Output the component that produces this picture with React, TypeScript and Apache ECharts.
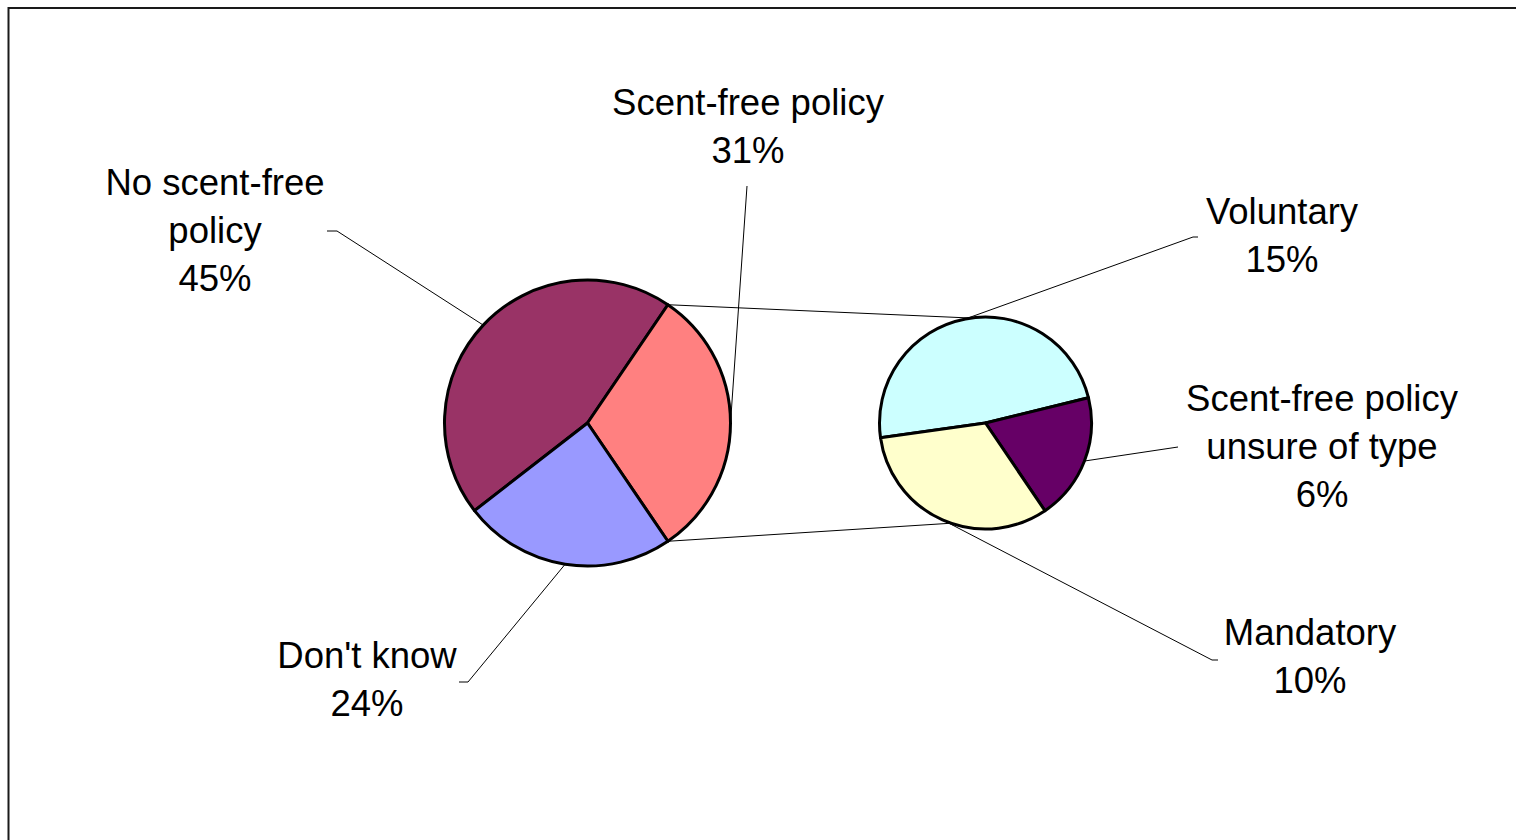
import { useEffect, useRef } from "react";
import * as echarts from "echarts";

// ---- data ----
const mainCategories = ["No scent-free policy", "Scent-free policy", "Don't know"];
const mainValues = [45, 31, 24];
const subCategories = ["Voluntary", "Scent-free policy unsure of type", "Mandatory"];
const subValues = [15, 6, 10];

// ---- styles ----
const mainColors = ["#993366", "#FF8080", "#9999FF"];
const subColors = ["#CCFFFF", "#660066", "#FFFFCC"];
const wrapText: Record<string, string> = {
  "No scent-free policy": "No scent-free\npolicy",
  "Scent-free policy unsure of type": "Scent-free policy\nunsure of type",
};

// ---- layout ----
const MAIN = { cx: 587.5, cy: 423, r: 143, start: 217.8 };
const SUB = { cx: 985.5, cy: 423, r: 106, start: 188 };
const mainLabelPos = [[215, 230], [748, 126], [367, 679]];
const mainGuide = [[[337, 231], [327, 231]], [[747, 186]], [[468, 682], [459, 682]]];
const subLabelPos = [[1282, 235], [1322, 446], [1310, 656]];
const subGuide = [[[1193, 237], [1198, 237]], [[1178, 447]], [[1212, 660], [1218, 660]]];
const seriesLineSubAngles = [98, 251];

const FONT = "'Liberation Sans', Arial, sans-serif";

function pointAt(p: { cx: number; cy: number; r: number }, deg: number) {
  const a = (deg * Math.PI) / 180;
  return [p.cx + p.r * Math.cos(a), p.cy - p.r * Math.sin(a)];
}

function sliceAngles(values: number[], start: number) {
  const total = values.reduce((s, v) => s + v, 0);
  let cum = 0;
  return values.map((v) => {
    const a0 = start - (360 * cum) / total;
    cum += v;
    const a1 = start - (360 * cum) / total;
    return { a0, a1, mid: (a0 + a1) / 2 };
  });
}

export default function App() {
  const ref = useRef<HTMLDivElement>(null);
  useEffect(() => {
    if (!ref.current) return;
    const chart = echarts.init(ref.current, undefined, { renderer: "svg" });

    const mainAng = sliceAngles(mainValues, MAIN.start);
    const subAng = sliceAngles(subValues, SUB.start);

    const guides: any[] = [];
    mainAng.forEach((s, i) => {
      guides.push({
        type: "polyline",
        silent: true,
        z: 10,
        shape: { points: [pointAt(MAIN, s.mid), ...mainGuide[i]] },
        style: { stroke: "#000", lineWidth: 1, fill: null },
      });
    });
    subAng.forEach((s, i) => {
      guides.push({
        type: "polyline",
        silent: true,
        z: 10,
        shape: { points: [pointAt(SUB, s.mid), ...subGuide[i]] },
        style: { stroke: "#000", lineWidth: 1, fill: null },
      });
    });
    // series lines (pie-of-pie connectors) from the split slice's edges
    const split = mainAng[1];
    [split.a0, split.a1].forEach((a, k) => {
      const p0 = pointAt(MAIN, a);
      const p1 = pointAt(SUB, seriesLineSubAngles[k]);
      guides.push({
        type: "line",
        silent: true,
        z: 10,
        shape: { x1: p0[0], y1: p0[1], x2: p1[0], y2: p1[1] },
        style: { stroke: "#000", lineWidth: 1 },
      });
    });

    const labelStyle = {
      show: true,
      position: "outside",
      fontSize: 36.5,
      fontFamily: FONT,
      color: "#000",
      lineHeight: 48,
      align: "center",
      formatter: (p: any) => `${wrapText[p.name] ?? p.name}\n${p.value}%`,
    };

    chart.setOption({
      animation: false,
      backgroundColor: "#fff",
      graphic: [
        {
          type: "rect",
          silent: true,
          shape: { x: 8.5, y: 8, width: 1600, height: 900 },
          style: { fill: null, stroke: "#1a1a1a", lineWidth: 2 },
        },
        ...guides,
      ],
      series: [
        {
          type: "pie",
          center: [MAIN.cx, MAIN.cy],
          radius: [0, MAIN.r],
          startAngle: MAIN.start,
          clockwise: true,
          avoidLabelOverlap: false,
          data: mainCategories.map((n, i) => ({
            name: n,
            value: mainValues[i],
            itemStyle: { color: mainColors[i] },
          })),
          itemStyle: { borderColor: "#000", borderWidth: 3 },
          label: labelStyle,
          labelLine: { show: false },
          labelLayout: (p: any) => ({
            x: mainLabelPos[p.dataIndex][0],
            y: mainLabelPos[p.dataIndex][1],
            align: "center",
            verticalAlign: "middle",
          }),
          emphasis: { disabled: true },
        },
        {
          type: "pie",
          center: [SUB.cx, SUB.cy],
          radius: [0, SUB.r],
          startAngle: SUB.start,
          clockwise: true,
          avoidLabelOverlap: false,
          data: subCategories.map((n, i) => ({
            name: n,
            value: subValues[i],
            itemStyle: { color: subColors[i] },
          })),
          itemStyle: { borderColor: "#000", borderWidth: 3 },
          label: labelStyle,
          labelLine: { show: false },
          labelLayout: (p: any) => ({
            x: subLabelPos[p.dataIndex][0],
            y: subLabelPos[p.dataIndex][1],
            align: "center",
            verticalAlign: "middle",
          }),
          emphasis: { disabled: true },
        },
      ],
    });
    return () => chart.dispose();
  }, []);
  return (
    <div
      ref={ref}
      style={{ position: "absolute", left: 0, top: 0, width: 1516, height: 840 }}
    />
  );
}
